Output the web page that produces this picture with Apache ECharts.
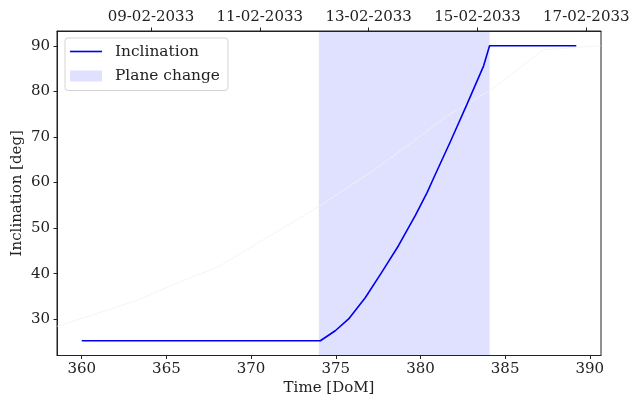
<!DOCTYPE html>
<html>
<head>
<meta charset="utf-8">
<script src="https://cdn.jsdelivr.net/npm/echarts@6/dist/echarts.min.js"></script>
<style>html,body{margin:0;padding:0;background:#fff}#c{width:632px;height:403px}</style>
</head>
<body>
<div id="c"></div>
<script>
// ---- data ----
const domTicks = [360, 365, 370, 375, 380, 385, 390];
const inclTicks = [30, 40, 50, 60, 70, 80, 90];
const dateTickDays = [0, 2, 4, 6, 8];
const dateTickLabels = ['09-02-2033', '11-02-2033', '13-02-2033', '15-02-2033', '17-02-2033'];

const timeDoM     = [360, 374.09, 374.97, 375.76, 376.75, 377.73, 378.71, 379.70, 380.39, 380.78, 381.77, 382.75, 383.73, 384.08, 389.2];
const inclination = [25.3, 25.3, 27.5, 30.1, 34.8, 40.4, 46.2, 52.8, 57.8, 61.0, 69.0, 77.2, 85.6, 90.0, 90.0];

const faintDoM  = [358.55, 363.28, 366.0, 368.0, 373.91, 377.22, 378.99, 381.59, 384.25, 387.26, 390.63];
const faintIncl = [28.47, 34.16, 38.54, 41.39, 54.53, 62.63, 67.45, 74.67, 80.59, 89.13, 90.0];

const planeChange = [374.0, 384.08];

// ---- chart ----
const FONT = 'DejaVu Serif';
const FS = 15;
const TXT = '#222';
const AX = '#222';
const chart = echarts.init(document.getElementById('c'), null, {renderer: 'canvas'});

const zip = (a, b) => a.map((v, i) => [v, b[i]]);
const tick = vals => ({show: true, inside: false, length: 3.5, lineStyle: {color: AX, width: 1}, customValues: vals});

chart.setOption({
  animation: false,
  backgroundColor: '#fff',
  textStyle: {fontFamily: FONT},
  grid: {left: 57, right: 31, top: 31, bottom: 47.5, show: true, borderColor: AX, borderWidth: 1,
         backgroundColor: 'transparent', containLabel: false, outerBoundsMode: 'none'},
  legend: {
    left: 65, top: 38, orient: 'vertical',
    padding: [6, 8, 7, 5],
    itemWidth: 32, itemHeight: 11, itemGap: 9.5,
    symbolKeepAspect: true,
    borderColor: '#d4d4d4', borderWidth: 1, borderRadius: 3,
    backgroundColor: 'rgba(255,255,255,0.8)',
    textStyle: {fontFamily: FONT, fontSize: 15.4, color: TXT, padding: [0, 0, 0, 8]},
    data: [
      {name: 'Inclination', icon: 'path://M0,0 L32,0 L32,1.6 L0,1.6 Z', itemStyle: {color: '#0000ee'}},
      {name: 'Plane change', icon: 'rect', itemStyle: {color: 'rgba(0,0,255,0.12)', borderWidth: 0}}
    ]
  },
  xAxis: [
    {
      type: 'value', position: 'bottom', min: 358.54, max: 390.66,
      name: 'Time [DoM]', nameLocation: 'middle', nameGap: 25, nameMoveOverlap: false,
      nameTextStyle: {fontFamily: FONT, fontSize: FS, color: TXT},
      axisLine: {show: true, onZero: false, lineStyle: {color: AX, width: 1}},
      axisTick: tick(domTicks),
      axisLabel: {fontFamily: FONT, fontSize: FS, color: TXT, margin: 6, customValues: domTicks},
      splitLine: {show: false}
    },
    {
      type: 'value', position: 'top', min: -1.726, max: 8.27,
      axisLine: {show: true, onZero: false, lineStyle: {color: AX, width: 1}},
      axisTick: tick(dateTickDays),
      axisLabel: {fontFamily: FONT, fontSize: FS, color: TXT, margin: 6, customValues: dateTickDays,
        formatter: v => dateTickLabels[dateTickDays.indexOf(Math.round(v))] || ''},
      splitLine: {show: false}
    }
  ],
  yAxis: {
    type: 'value', min: 22.07, max: 93.24, position: 'left',
    name: 'Inclination [deg]', nameLocation: 'middle', nameGap: 32, nameMoveOverlap: false,
    nameTextStyle: {fontFamily: FONT, fontSize: FS, color: TXT},
    axisLine: {show: true, onZero: false, lineStyle: {color: AX, width: 1}},
    axisTick: tick(inclTicks),
    axisLabel: {fontFamily: FONT, fontSize: FS, color: TXT, margin: 7, customValues: inclTicks},
    splitLine: {show: false}
  },
  series: [
    {
      name: 'Plane change', type: 'line', xAxisIndex: 0, data: [], z: 1,
      symbol: 'none', silent: true,
      markArea: {
        silent: true,
        itemStyle: {color: 'rgba(0,0,255,0.12)'},
        data: [[{xAxis: planeChange[0]}, {xAxis: planeChange[1]}]]
      }
    },
    {
      name: 'faint', type: 'line', xAxisIndex: 0, z: 2, symbol: 'none', silent: true,
      lineStyle: {color: 'rgba(242,242,242,0.85)', width: 1},
      data: zip(faintDoM, faintIncl)
    },
    {
      name: 'Inclination', type: 'line', xAxisIndex: 0, z: 3, symbol: 'none',
      lineStyle: {color: '#0000ee', width: 1.6, join: 'round'},
      itemStyle: {color: '#0000ee'},
      data: zip(timeDoM, inclination)
    }
  ]
});
</script>
</body>
</html>
